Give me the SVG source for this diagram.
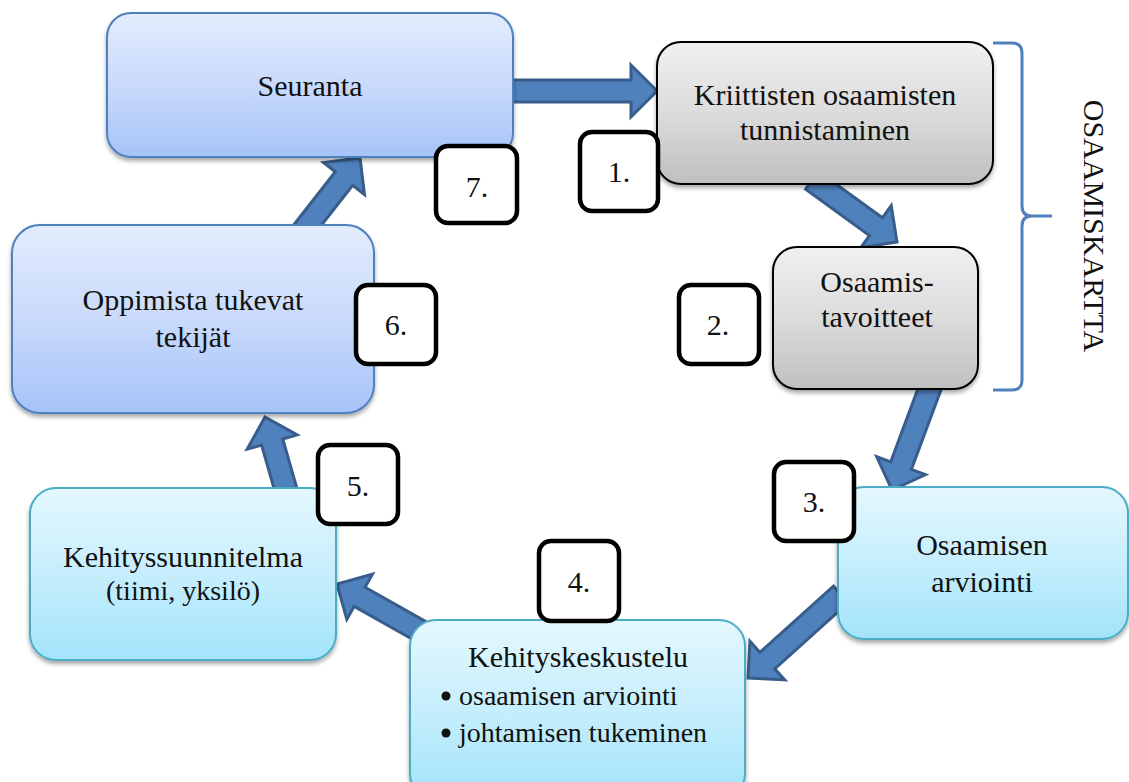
<svg xmlns="http://www.w3.org/2000/svg" width="1129" height="782" viewBox="0 0 1129 782">
  <defs>
    <linearGradient id="gBlue" x1="0" y1="0" x2="0" y2="1">
      <stop offset="0" stop-color="#e2ecfd"/>
      <stop offset="0.5" stop-color="#c9dafb"/>
      <stop offset="1" stop-color="#a6c3f8"/>
    </linearGradient>
    <linearGradient id="gGray" x1="0" y1="0" x2="0" y2="1">
      <stop offset="0" stop-color="#f0f0f0"/>
      <stop offset="0.5" stop-color="#dcdcdc"/>
      <stop offset="1" stop-color="#bfbfbf"/>
    </linearGradient>
    <linearGradient id="gCyan" x1="0" y1="0" x2="0" y2="1">
      <stop offset="0" stop-color="#e4f8fe"/>
      <stop offset="0.5" stop-color="#c6eefc"/>
      <stop offset="1" stop-color="#a2e4fa"/>
    </linearGradient>
    <filter id="shadow" x="-10%" y="-10%" width="120%" height="130%">
      <feDropShadow dx="0" dy="3" stdDeviation="2" flood-color="#000" flood-opacity="0.35"/>
    </filter>
  </defs>
  <style>
    .lbl { font-family: "Liberation Serif", "Times New Roman", serif; font-size: 30px; fill: #111; text-anchor: middle; }
    .small { font-size: 28px; }
    .left { text-anchor: start; }
    .blue { fill: url(#gBlue); stroke: #4f81bd; stroke-width: 2; filter: url(#shadow); }
    .gray { fill: url(#gGray); stroke: #000; stroke-width: 2; filter: url(#shadow); }
    .cyan { fill: url(#gCyan); stroke: #4bacc6; stroke-width: 2; filter: url(#shadow); }
    .num { fill: #fff; stroke: #000; stroke-width: 4.5; }
    .arrow { fill: #4f81bd; stroke: #385d8a; stroke-width: 3; stroke-linejoin: miter; }
    .brace { fill: none; stroke: #4f81bd; stroke-width: 3; }
    .bullet { fill: #111; }
  </style>

  <!-- block arrows between the steps -->
  <g id="connectors">
    <path class="arrow" transform="translate(505,91)" d="M0,-11 H126 V-26 L152,0 L126,26 V11 H0 Z"/>
    <path class="arrow" transform="translate(897,242) rotate(36)" d="M-105,-11 H-26 V-26 L0,0 L-26,26 V11 H-105 Z"/>
    <path class="arrow" transform="translate(892,490) rotate(110.4)" d="M-115,-11 H-26 V-26 L0,0 L-26,26 V11 H-115 Z"/>
    <path class="arrow" transform="translate(748,678) rotate(138)" d="M-125,-11 H-26 V-26 L0,0 L-26,26 V11 H-125 Z"/>
    <path class="arrow" transform="translate(337,584) rotate(209.5)" d="M-105,-11 H-26 V-26 L0,0 L-26,26 V11 H-105 Z"/>
    <path class="arrow" transform="translate(265,417) rotate(-106)" d="M-78,-11 H-26 V-26 L0,0 L-26,26 V11 H-78 Z"/>
    <path class="arrow" transform="translate(360,158) rotate(-52)" d="M-92,-11 H-26 V-26 L0,0 L-26,26 V11 H-92 Z"/>
  </g>

  <g id="seuranta">
    <rect class="blue" x="107" y="13" width="406" height="144" rx="24"/>
    <text class="lbl" x="310" y="96">Seuranta</text>
  </g>

  <g id="kriittisten">
    <rect class="gray" x="657" y="42" width="336" height="142" rx="24"/>
    <text class="lbl" x="825" y="105">Kriittisten osaamisten</text>
    <text class="lbl" x="825" y="140">tunnistaminen</text>
  </g>

  <g id="tavoitteet">
    <rect class="gray" x="773" y="247" width="205" height="142" rx="24"/>
    <text class="lbl" x="877" y="292">Osaamis-</text>
    <text class="lbl" x="877" y="327">tavoitteet</text>
  </g>

  <g id="arviointi">
    <rect class="cyan" x="838" y="487" width="290" height="152" rx="26"/>
    <text class="lbl" x="982" y="555">Osaamisen</text>
    <text class="lbl" x="982" y="592">arviointi</text>
  </g>

  <g id="kehityskeskustelu">
    <rect class="cyan" x="410" y="620" width="335" height="180" rx="26"/>
    <text class="lbl" x="578" y="667">Kehityskeskustelu</text>
    <circle class="bullet" cx="446" cy="696" r="4.5"/>
    <text class="lbl small left" x="459" y="705">osaamisen arviointi</text>
    <circle class="bullet" cx="446" cy="733" r="4.5"/>
    <text class="lbl small left" x="459" y="742">johtamisen tukeminen</text>
  </g>

  <g id="kehityssuunnitelma">
    <rect class="cyan" x="30" y="488" width="306" height="172" rx="26"/>
    <text class="lbl" x="183" y="567">Kehityssuunnitelma</text>
    <text class="lbl small" x="183" y="600">(tiimi, yksilö)</text>
  </g>

  <g id="oppimista">
    <rect class="blue" x="12" y="225" width="362" height="188" rx="28"/>
    <text class="lbl" x="193" y="310">Oppimista tukevat</text>
    <text class="lbl" x="193" y="347">tekijät</text>
  </g>

  <!-- brace grouping steps 1 and 2 -->
  <g id="osaamiskartta">
    <path class="brace" d="M993,43 H1012 Q1022,43 1022,53 V206 Q1022,216 1032,216 H1052 M1032,216 Q1022,216 1022,226 V380 Q1022,390 1012,390 H993"/>
    <text class="lbl" transform="translate(1084,226) rotate(90)">OSAAMISKARTTA</text>
  </g>

  <!-- step numbers -->
  <g id="n1">
    <rect class="num" x="580" y="132" width="78" height="79" rx="12"/>
    <text class="lbl" x="619" y="182">1.</text>
  </g>
  <g id="n2">
    <rect class="num" x="679" y="285" width="80" height="79" rx="12"/>
    <text class="lbl" x="718" y="335">2.</text>
  </g>
  <g id="n3">
    <rect class="num" x="774" y="462" width="80" height="79" rx="12"/>
    <text class="lbl" x="814" y="512">3.</text>
  </g>
  <g id="n4">
    <rect class="num" x="539" y="541" width="80" height="80" rx="12"/>
    <text class="lbl" x="579" y="592">4.</text>
  </g>
  <g id="n5">
    <rect class="num" x="318" y="445" width="80" height="79" rx="12"/>
    <text class="lbl" x="358" y="496">5.</text>
  </g>
  <g id="n6">
    <rect class="num" x="356" y="285" width="80" height="79" rx="12"/>
    <text class="lbl" x="396" y="335">6.</text>
  </g>
  <g id="n7">
    <rect class="num" x="436" y="146" width="81" height="77" rx="12"/>
    <text class="lbl" x="477" y="197">7.</text>
  </g>
</svg>
